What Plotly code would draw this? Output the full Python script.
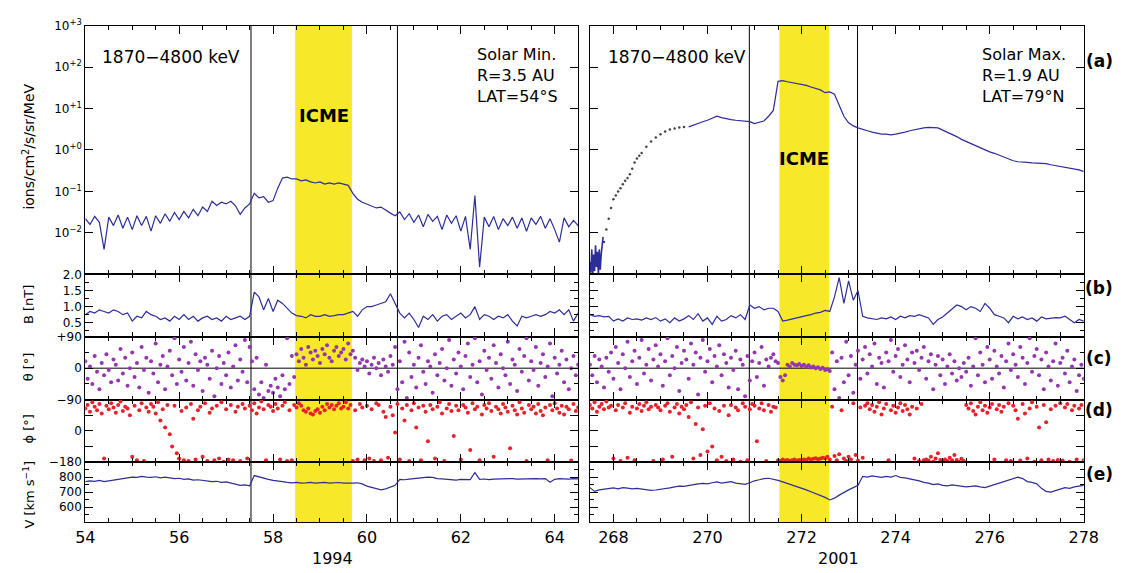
import numpy as np
import plotly.graph_objects as go

# ---------------- data ----------------
# Left column: 1994, day 54.0 .. 64.5 ; Right column: 2001, day 267.5 .. 278.0
flux_left = [0.022,0.016,0.025,0.018,0.004,0.024,0.015,0.027,0.013,0.024,
             0.012,0.026,0.015,0.025,0.011,0.026,0.017,0.029,0.019,0.031,
             0.021,0.033,0.023,0.037,0.026,0.042,0.033,0.058,0.046,0.055,
             0.050,0.058,0.045,0.028,0.040,0.050,0.090,0.070,0.075,0.055,
             0.060,0.120,0.210,0.220,0.200,0.200,0.180,0.190,0.170,0.160,
             0.170,0.150,0.160,0.150,0.160,0.150,0.140,0.090,0.065,0.055,
             0.050,0.045,0.040,0.042,0.035,0.030,0.026,0.032,0.021,0.029,
             0.018,0.027,0.014,0.028,0.019,0.025,0.012,0.027,0.017,0.026,
             0.011,0.025,0.004,0.080,0.0015,0.024,0.014,0.025,0.012,0.022,
             0.015,0.024,0.013,0.023,0.011,0.023,0.016,0.025,0.013,0.022,
             0.012,0.006,0.023,0.014,0.020,0.015]

flux_right_start = [0.002,0.0011,0.004,0.001,0.003,0.0012,0.005,0.0015,
                    0.0035,0.001,0.004,0.0013,0.003,0.005,0.008]
flux_right_dot_t = [267.80,267.85,267.90,267.95,268.00,268.05,268.10,268.15,
                    268.20,268.25,268.30,268.35,268.40,268.45,268.50,268.55,
                    268.60,268.70,268.80,268.90,269.00,269.10,269.20,269.30,
                    269.40,269.50]
flux_right_dot = [0.006,0.012,0.022,0.04,0.065,0.08,0.10,0.12,0.15,0.18,0.21,
                  0.26,0.35,0.50,0.62,0.72,0.85,1.2,1.6,2.0,2.4,2.8,3.1,3.3,
                  3.5,3.6]
flux_right = [3.6,4.0,4.3,4.8,5.2,5.8,6.5,6.0,5.6,5.4,
              5.2,5.1,5.0,4.8,4.3,4.6,5.0,6.5,9.0,45,
              47,44,42,40,38,36,33,31,28,24,
              25,22,12,6.5,4.5,3.8,3.4,3.2,2.9,2.7,
              2.5,2.4,2.4,2.3,2.4,2.5,2.7,2.9,3.1,3.2,
              3.4,3.5,3.5,3.4,3.0,2.7,2.4,2.1,1.8,1.6,
              1.4,1.25,1.1,1.0,0.9,0.83,0.75,0.68,0.6,0.55,
              0.52,0.5,0.5,0.49,0.48,0.47,0.47,0.44,0.42,0.4,
              0.38,0.37,0.35,0.33,0.3]

b_left = [0.75,0.85,0.80,0.90,0.85,0.80,0.90,0.85,0.75,0.80,
          0.55,0.70,0.65,0.85,0.75,0.70,0.60,0.65,0.55,0.70,
          0.60,0.75,0.60,0.70,0.55,0.65,0.70,0.60,0.65,0.55,
          0.70,0.60,0.65,0.70,0.60,0.70,1.45,1.30,0.90,1.25,
          0.85,1.20,1.10,0.95,0.80,0.72,0.70,0.65,0.75,0.70,
          0.70,0.75,0.70,0.72,0.75,0.75,0.80,0.85,0.70,0.90,
          1.00,1.00,1.05,1.10,1.15,1.40,1.10,0.80,0.65,0.80,
          0.60,0.35,0.70,0.60,0.75,0.55,0.70,0.75,0.60,0.70,
          0.80,0.65,0.75,1.00,0.60,0.75,0.70,0.60,0.70,0.65,
          0.75,0.55,0.40,0.70,0.65,0.70,0.75,0.70,0.75,0.85,
          0.80,0.90,0.75,0.90,0.55,0.80]
b_right = [0.75,0.70,0.72,0.68,0.70,0.55,0.62,0.55,0.65,0.60,
           0.62,0.58,0.65,0.60,0.66,0.55,0.62,0.50,0.65,0.55,
           0.62,0.72,0.60,0.78,0.55,0.65,0.45,0.70,0.55,0.60,
           0.72,0.65,0.75,0.60,1.05,0.95,1.00,0.90,0.95,0.95,
           0.85,0.55,0.58,0.62,0.65,0.70,0.72,0.75,0.80,0.82,
           0.88,0.85,1.30,1.90,1.10,1.80,1.20,1.50,0.70,0.65,
           0.62,0.60,0.65,0.62,0.68,0.60,0.70,0.65,0.72,0.70,
           0.75,0.70,0.65,0.45,0.60,0.68,0.80,0.95,1.05,1.00,
           0.90,1.00,0.95,0.85,1.10,0.95,0.75,0.70,0.65,0.50,
           0.70,0.62,0.68,0.60,0.65,0.55,0.68,0.62,0.65,0.66,
           0.65,0.70,0.60,0.50,0.60,0.55]

theta_left = [20,-30,5,-45,35,-10,-60,15,-20,40,
              -5,-40,25,10,-35,55,-15,30,-50,0,
              45,-25,15,-55,60,-5,30,-70,20,-15,
              70,-40,10,35,-60,5,50,-20,85,-45,
              25,-10,60,-35,15,75,-50,40,-5,20,
              -65,30,10,-30,50,-80,0,35,-45,15,
              -20,45,-55,5,65,-35,25,-10,80,-40,
              60,20,-60,30,-75,-40,-85,10,-65,-50,
              -70,-30,-55,-80,-20,-60,85,-45,35,-25,
              40,20,55,30,10,60,45,25,50,35,
              15,55,40,65,30,20,50,60,35,45,
              55,25,70,40,50,30,-5,15,25,5,
              20,-15,10,30,0,15,-20,25,5,-10,
              35,10,60,-60,20,-40,75,-85,45,-25,
              10,-55,30,65,-10,-45,20,5,-70,40,
              -20,15,55,-35,0,80,-50,25,-15,45,
              5,-60,35,70,-25,10,85,-40,20,-75,
              50,-5,30,-30,65,15,-55,40,0,-20,
              75,-45,25,10,-65,55,-10,35,85,-35,
              20,-5,60,-50,15,40,-25,5,70,-80,
              30,-15,10,50,-40,25,-60,0,35,-20,
              10]
phi_left = [130,150,110,165,140,120,155,100,-160,145,
            125,160,135,105,150,170,115,140,130,90,
            -150,145,-170,120,160,-175,135,110,155,140,
            100,165,60,125,20,150,-20,-90,145,-130,
            -160,115,-170,135,-175,155,70,-165,120,140,
            -150,160,-175,105,130,-170,145,-160,165,-178,
            125,-165,150,-170,110,140,-175,155,130,-160,
            145,120,160,100,135,170,125,-170,150,140,
            115,155,130,-165,145,165,-175,120,-170,150,
            135,160,145,120,110,130,100,95,115,125,
            105,140,120,155,135,150,125,145,160,130,
            140,165,130,150,-175,120,-165,155,135,-170,
            145,-160,125,-175,160,150,-170,110,80,-155,
            140,90,-10,155,-165,130,60,150,-175,120,
            160,20,135,-170,145,110,-60,150,125,-160,
            140,165,100,-175,130,155,115,-30,145,120,
            -165,150,135,105,-110,160,125,140,-170,95,
            150,130,160,115,-150,140,125,100,155,135,
            110,-100,145,120,95,165,130,105,-175,150,
            125,140,100,155,115,90,135,-170,150,120,
            160,130,105,145,95,140,125,-172,155,115,
            135]
theta_right = [10,-20,35,-40,25,5,-55,30,-10,45,
               -30,60,15,-60,40,0,75,-25,20,50,
               -45,30,80,-15,10,55,-35,25,65,5,
               40,-50,20,85,-20,35,0,60,-65,15,
               50,25,-30,70,10,45,-75,30,80,-10,
               20,55,-40,35,5,65,-20,40,15,-55,
               30,-5,50,-60,25,10,-80,35,-35,20,
               45,-25,15,60,-50,25,5,30,40,20,
               15,-25,-35,-20,10,5,15,10,8,12,
               6,10,4,8,2,5,0,3,-2,1,
               -5,-3,-8,45,-60,20,-85,30,-40,75,
               -20,35,-70,10,50,-30,25,60,-15,40,
               5,70,-45,30,15,-55,45,20,80,-10,
               35,55,-25,10,65,25,-40,45,15,50,
               -5,30,60,-30,20,40,-60,10,35,-20,
               25,-45,5,40,-15,20,-35,0,-25,15,
               -10,30,-50,5,85,-20,45,10,-40,60,
               25,-30,50,5,-15,35,-55,20,70,-5,
               40,10,-25,60,30,-45,15,85,-10,35,
               55,-20,25,-60,45,5,-35,20,70,-50,
               15,30,-15,50,-40,5,25,-65,-20,10,
               -30]
phi_right = [150,130,165,110,140,155,125,170,135,145,
             -160,120,150,-175,135,160,-155,105,140,-170,
             130,155,115,145,165,125,140,-175,150,135,
             120,-165,145,160,110,-150,135,155,100,140,
             125,150,80,165,-160,40,135,-140,10,145,
             -120,160,-90,130,-170,115,-150,145,-175,90,
             150,-165,135,120,-178,160,140,-170,125,155,
             145,-60,130,160,120,-175,150,110,140,135,
             -170,-175,-165,-172,-168,-174,-170,-166,-172,-168,
             -170,-165,-168,-160,-166,-162,-158,-164,-160,-155,
             -158,-150,-165,140,-145,-170,-135,120,-160,-175,
             -150,-165,160,-140,-172,135,-155,145,160,125,
             150,110,140,165,95,130,155,-170,120,145,
             105,135,160,115,150,125,95,140,-160,130,
             -175,155,-170,-165,-172,-150,-178,-160,-130,-168,
             -172,-165,-175,-155,-170,-140,-168,-178,-162,-175,
             150,130,160,115,95,140,165,120,145,105,
             135,155,-165,125,150,110,140,-170,160,-175,
             145,120,70,-172,155,100,-160,130,165,-178,
             140,20,-170,150,50,-165,125,-175,145,-168,
             160,-172,135,155,-178,120,145,-165,130,150,
             -170]

v_left = [770,775,772,778,770,775,780,782,790,795,
          800,798,805,800,798,802,795,800,795,790,
          792,785,788,780,782,778,775,770,772,765,
          768,760,755,745,748,742,810,800,790,785,
          778,772,770,765,762,765,760,762,765,760,
          762,765,760,762,764,760,758,760,762,755,
          740,730,725,715,722,735,745,785,782,786,
          790,792,795,800,798,790,788,785,782,780,
          784,786,783,830,785,787,783,786,788,790,
          792,790,786,788,790,792,790,788,790,765,
          785,790,788,786,790,788]
v_right = [730,705,715,720,725,728,722,730,726,722,
           725,720,716,712,714,718,722,728,735,740,
           738,745,750,755,758,755,762,768,760,765,
           770,760,758,752,762,775,782,790,792,786,
           778,768,758,748,738,725,715,702,690,678,
           665,648,660,680,700,715,730,745,805,800,
           808,802,798,805,800,810,798,795,790,780,
           775,765,760,750,755,745,742,748,745,740,
           735,738,742,735,730,740,750,755,765,775,
           785,800,790,770,765,755,725,705,700,712,
           720,730,725,735,740,745]

icme_left = [58.47, 59.68]
icme_right = [271.53, 272.59]
lines_left = [57.53, 60.65]
lines_right = [270.89, 273.19]

x_tickvals = [[54, 56, 58, 60, 62, 64], [268, 270, 272, 274, 276, 278]]
flux_ticks = [0.01, 0.1, 1, 10, 100, 1000]
flux_ticktext = ["10<sup>−2</sup>", "10<sup>−1</sup>", "10<sup>+0</sup>",
                 "10<sup>+1</sup>", "10<sup>+2</sup>", "10<sup>+3</sup>"]
b_ticks = [0.5, 1.0, 1.5, 2.0]
b_ticktext = ["0.5", "1.0", "1.5", "2.0"]
theta_ticks = [-90, 0, 90]
theta_ticktext = ["−90", "0", "+90"]
phi_ticks = [-180, 0]
phi_ticktext = ["−180", "0"]
phi_minor = [-90, 90, 180]
v_ticks = [600, 700, 800]
v_ticktext = ["600", "700", "800"]

# ---------------- style ----------------
W, H = 1132, 573
FONT = "DejaVu Sans"
BLUE = "#2d2d99"
PURPLE = "#9436b0"
RED = "#e8222b"
YELLOW = "#f7e92a"

t0 = [54.0, 267.5]
col_px = [(77, 581), (593, 1098)]
row_px = [(17, 273), (273, 337), (337, 402), (402, 466), (466, 528)]
xranges = [[54, 64.5], [267.5, 278]]

def ax(k, kind):
    return (kind if k == 1 else f"{kind}{k}")

fig = go.Figure()
layout = {}
for r in range(5):
    for c in range(2):
        k = r * 2 + c + 1
        layout[ax(k, "xaxis")] = dict(
            domain=[col_px[c][0] / W, col_px[c][1] / W], range=xranges[c],
            anchor=ax(k, "y"), showline=True, linecolor="black", linewidth=1.2,
            mirror="allticks", ticks="inside", ticklen=8, tickwidth=1.2,
            tickcolor="black", tickvals=x_tickvals[c],
            showticklabels=(r == 4), showgrid=False, zeroline=False,
            minor=dict(dtick=0.5, tick0=t0[c], ticklen=4, ticks="inside",
                       tickcolor="black", tickwidth=1),
            tickfont=dict(size=16, color="black", family=FONT))
        ydom = [1 - row_px[r][1] / H, 1 - row_px[r][0] / H]
        yd = dict(domain=ydom, anchor=ax(k, "x"), showline=True,
                  linecolor="black", linewidth=1.2, mirror="allticks",
                  ticks="inside", ticklen=8, tickwidth=1.2, tickcolor="black",
                  showgrid=False, zeroline=False, showticklabels=(c == 0),
                  tickfont=dict(size=12, color="black", family=FONT))
        if r == 0:
            yd.update(type="log", range=[-3, 3], tickvals=flux_ticks,
                      ticktext=flux_ticktext)
        elif r == 1:
            yd.update(range=[0.07, 2.0], tickvals=b_ticks, ticktext=b_ticktext,
                      minor=dict(tickvals=[0.25, 0.75, 1.25, 1.75], ticklen=4,
                                 ticks="inside", tickcolor="black"))
        elif r == 2:
            yd.update(range=[-90, 90], tickvals=theta_ticks,
                      ticktext=theta_ticktext,
                      minor=dict(tickvals=[-45, 45], ticklen=4, ticks="inside",
                                 tickcolor="black"))
        elif r == 3:
            yd.update(range=[-180, 180], tickvals=phi_ticks,
                      ticktext=phi_ticktext,
                      minor=dict(tickvals=phi_minor, ticklen=8, ticks="inside",
                                 tickcolor="black", tickwidth=1.2))
        else:
            yd.update(range=[500, 900], tickvals=v_ticks, ticktext=v_ticktext,
                      minor=dict(tickvals=[550, 650, 750, 850], ticklen=4,
                                 ticks="inside", tickcolor="black"))
        layout[ax(k, "yaxis")] = yd

def tgrid(start, step, n):
    return np.round(start + step * np.arange(n), 3)

def add(k, x, y, mode, color, width=1.2, size=4):
    tr = dict(x=x, y=y, mode=mode, xaxis=ax(k, "x"), yaxis=ax(k, "y"),
              showlegend=False, hoverinfo="skip")
    if mode == "lines":
        tr["line"] = dict(color=color, width=width)
    else:
        tr["marker"] = dict(color=color, size=size)
    fig.add_trace(go.Scatter(**tr))

# panel a
add(1, tgrid(54.0, 0.1, len(flux_left)), flux_left, "lines", BLUE)
add(2, tgrid(267.5, 0.02, len(flux_right_start)), flux_right_start, "lines", BLUE, 1.6)
add(2, flux_right_dot_t, flux_right_dot, "markers", "#444444", size=2.5)
add(2, tgrid(269.6, 0.1, len(flux_right)), flux_right, "lines", BLUE)
# panel b
add(3, tgrid(54.0, 0.1, len(b_left)), b_left, "lines", BLUE)
add(4, tgrid(267.5, 0.1, len(b_right)), b_right, "lines", BLUE)
# panel c
add(5, tgrid(54.0, 0.05, len(theta_left)), theta_left, "markers", PURPLE)
add(6, tgrid(267.5, 0.05, len(theta_right)), theta_right, "markers", PURPLE)
# panel d
add(7, tgrid(54.0, 0.05, len(phi_left)), phi_left, "markers", RED)
add(8, tgrid(267.5, 0.05, len(phi_right)), phi_right, "markers", RED)
# panel e
add(9, tgrid(54.0, 0.1, len(v_left)), v_left, "lines", BLUE)
add(10, tgrid(267.5, 0.1, len(v_right)), v_right, "lines", BLUE)

shapes = []
ytop, ybot = 1 - 17 / H, 1 - 528 / H
for c, (band, lns) in enumerate([(icme_left, lines_left), (icme_right, lines_right)]):
    xr = ax(c + 1, "x")
    shapes.append(dict(type="rect", xref=xr, yref="paper", x0=band[0], x1=band[1],
                       y0=ybot, y1=ytop, fillcolor=YELLOW, line=dict(width=0),
                       layer="below"))
    for xv in lns:
        shapes.append(dict(type="line", xref=xr, yref="paper", x0=xv, x1=xv,
                           y0=ybot, y1=ytop, line=dict(color="black", width=1),
                           layer="below"))
    k = 5 + c
    shapes.append(dict(type="line", xref=ax(k, "x") + " domain", yref=ax(k, "y"),
                       x0=0, x1=1, y0=0, y1=0, line=dict(color="black", width=1),
                       layer="below"))

def A(text, xp, yp, size, xanchor="center", yanchor="middle", angle=0, align="center"):
    return dict(text=text, x=xp / W, y=1 - yp / H, xref="paper", yref="paper",
                showarrow=False, xanchor=xanchor, yanchor=yanchor, textangle=angle,
                align=align, font=dict(size=size, color="black", family=FONT))

ann = [
    A("1870−4800 keV", 92, 49, 17, xanchor="left"),
    A("1870−4800 keV", 609, 49, 17, xanchor="left"),
    A("Solar Min.<br>R=3.5 AU<br>LAT=54°S", 475, 68, 16, xanchor="left", align="left"),
    A("Solar Max.<br>R=1.9 AU<br>LAT=79°N", 992, 68, 16, xanchor="left", align="left"),
    A("<b>ICME</b>", 321, 110, 18),
    A("<b>ICME</b>", 812, 154, 18),
    A("ions/cm<sup>2</sup>/s/sr/MeV", 19, 142, 14, angle=-90),
    A("B [nT]", 19, 304, 13, angle=-90),
    A("θ [°]", 19, 368, 13, angle=-90),
    A("ϕ [°]", 19, 432, 13, angle=-90),
    A("V [km s<sup>−1</sup>]", 19, 500, 13, angle=-90),
    A("<b>(a)</b>", 1114, 53, 17),
    A("<b>(b)</b>", 1114, 287, 17),
    A("<b>(c)</b>", 1114, 359, 17),
    A("<b>(d)</b>", 1114, 413, 17),
    A("<b>(e)</b>", 1114, 478, 17),
    A("1994", 330, 565, 16),
    A("2001", 847, 565, 16),
]

fig.update_layout(width=W, height=H, autosize=False,
                  margin=dict(l=0, r=0, t=0, b=0),
                  paper_bgcolor="white", plot_bgcolor="rgba(0,0,0,0)",
                  shapes=shapes, annotations=ann,
                  font=dict(family=FONT, color="black"), **layout)
fig.write_html("out.html")
